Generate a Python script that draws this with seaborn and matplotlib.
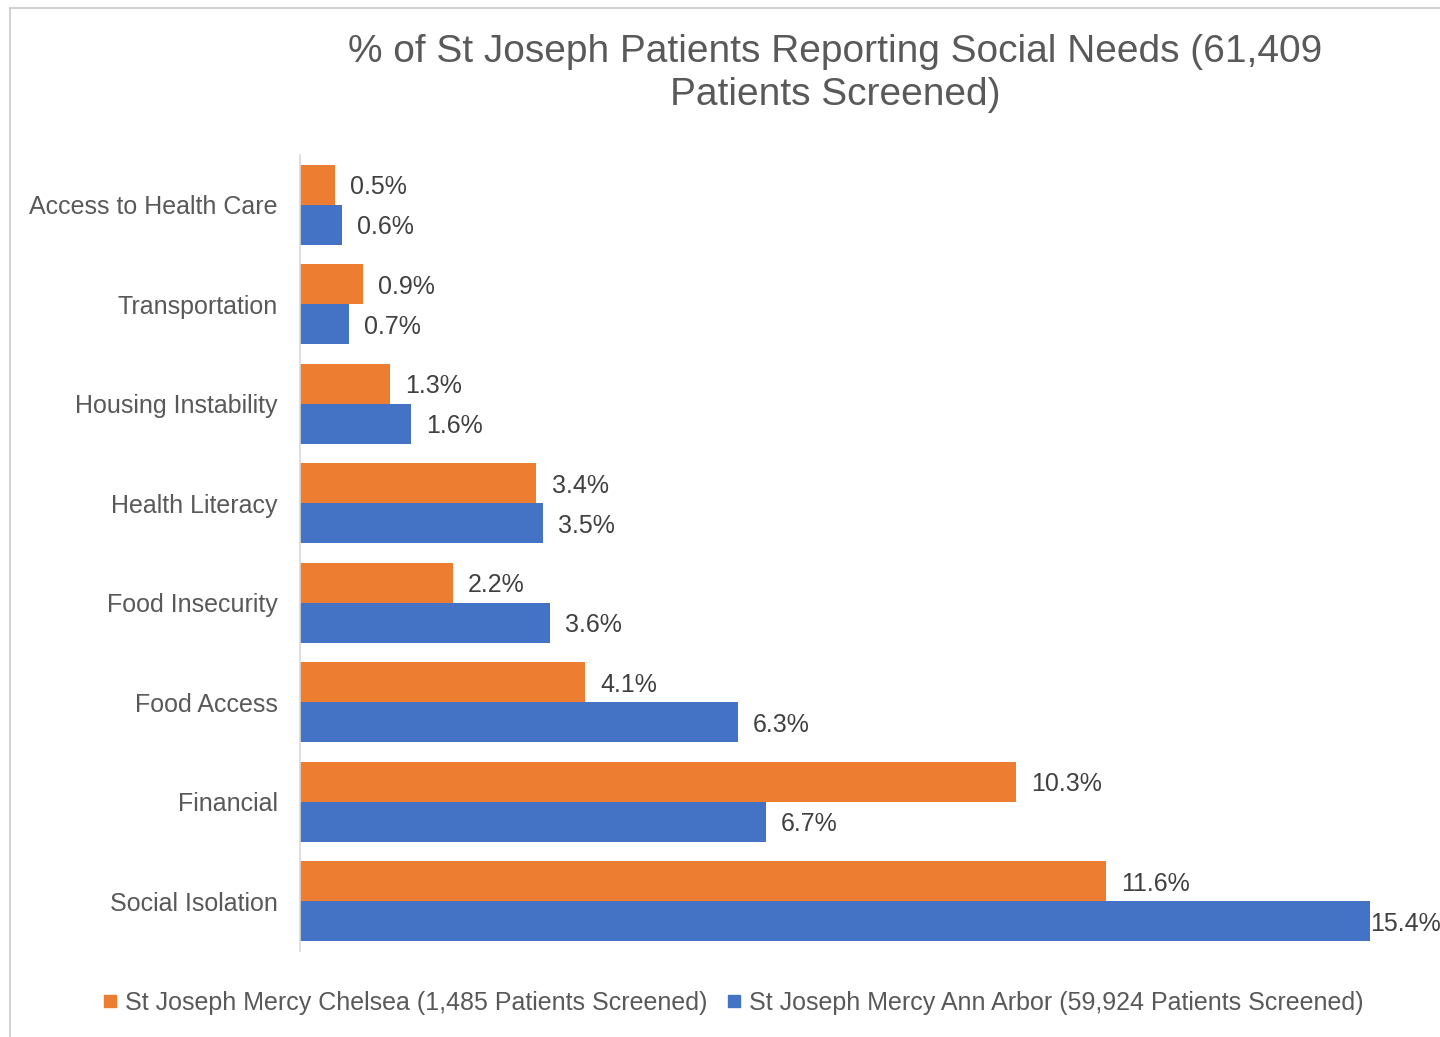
import matplotlib.pyplot as plt
import matplotlib.lines as mlines
import pandas as pd
import seaborn as sns

categories = [
    "Access to Health Care",
    "Transportation",
    "Housing Instability",
    "Health Literacy",
    "Food Insecurity",
    "Food Access",
    "Financial",
    "Social Isolation",
]
chelsea = [0.5, 0.9, 1.3, 3.4, 2.2, 4.1, 10.3, 11.6]
ann_arbor = [0.6, 0.7, 1.6, 3.5, 3.6, 6.3, 6.7, 15.4]
series = [
    "St Joseph Mercy Chelsea (1,485 Patients Screened)",
    "St Joseph Mercy Ann Arbor (59,924 Patients Screened)",
]
colors = ["#ED7D31", "#4472C4"]


def social_needs_chart():
    df = pd.DataFrame(
        {
            "need": categories * 2,
            "pct": chelsea + ann_arbor,
            "site": [series[0]] * len(categories) + [series[1]] * len(categories),
        }
    )

    sns.set_style("white")
    plt.rcParams["font.family"] = ["Liberation Sans", "DejaVu Sans"]

    fig = plt.figure(figsize=(14.4, 10.37), dpi=100)
    ax = fig.add_axes([300 / 1440, 1 - 951 / 1037, 1070 / 1440, 796 / 1037])

    sns.barplot(
        data=df,
        y="need",
        x="pct",
        hue="site",
        hue_order=series,
        order=categories,
        palette=colors,
        orient="h",
        width=0.8,
        saturation=1,
        linewidth=0,
        legend=False,
        ax=ax,
    )

    top = max(max(chelsea), max(ann_arbor))
    for container, values in zip(ax.containers, [chelsea, ann_arbor]):
        for bar, v in zip(container, values):
            # the widest bar has no room for a gap, so its label sits at the end
            pad = 0 if v == top else 11
            ax.annotate(
                f"{v:.1f}%",
                xy=(bar.get_width(), bar.get_y() + bar.get_height() / 2),
                xytext=(pad, 0),
                textcoords="offset points",
                va="center_baseline",
                ha="left",
                fontsize=18,
                color="#404040",
                annotation_clip=False,
            )

    ax.set_xlim(0, 15.4)
    ax.set_xticks([])
    ax.set_xlabel("")
    ax.set_ylabel("")
    ax.tick_params(axis="y", length=0, pad=16, labelsize=18, labelcolor="#595959")
    for side in ["top", "right", "bottom"]:
        ax.spines[side].set_visible(False)
    ax.spines["left"].set_color("#D9D9D9")
    ax.spines["left"].set_linewidth(1.2)

    ax.set_title(
        "% of St Joseph Patients Reporting Social Needs (61,409\nPatients Screened)",
        fontsize=28,
        color="#595959",
        pad=36,
        linespacing=1.25,
    )

    handles = [
        mlines.Line2D([], [], marker="s", linestyle="", color=c, markersize=9)
        for c in colors
    ]
    fig.legend(
        handles,
        series,
        loc="center",
        bbox_to_anchor=(733 / 1440, 1 - 1003 / 1037),
        ncol=2,
        frameon=False,
        fontsize=18,
        labelcolor="#595959",
        handlelength=0.6,
        handletextpad=0.3,
        columnspacing=0.8,
    )

    # outer chart border (top and left edges visible in the crop)
    fig.add_artist(
        mlines.Line2D([10 / 1440, 1], [1 - 8 / 1037, 1 - 8 / 1037],
                      transform=fig.transFigure, color="#C8C8C8", linewidth=1.2)
    )
    fig.add_artist(
        mlines.Line2D([10 / 1440, 10 / 1440], [0, 1 - 8 / 1037],
                      transform=fig.transFigure, color="#C8C8C8", linewidth=1.2)
    )

    fig.savefig("out.png", dpi=100)


if __name__ == "__main__":
    social_needs_chart()
